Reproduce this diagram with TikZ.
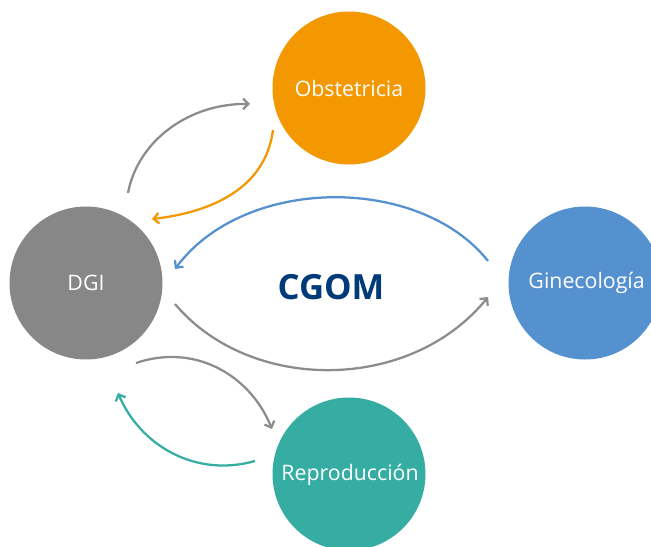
\documentclass[tikz,border=0pt]{standalone}
\usepackage{fontspec}
\setmainfont{Open Sans}
\usetikzlibrary{arrows.meta}
\definecolor{cgray}{HTML}{878787}
\definecolor{corange}{HTML}{F39800}
\definecolor{cblue}{HTML}{5591CF}
\definecolor{cteal}{HTML}{36ADA3}
\definecolor{cnavy}{HTML}{003A78}
\definecolor{lgray}{HTML}{8C8C8C}
\begin{document}
\begin{tikzpicture}[x=0.75pt,y=-0.75pt,
  bub/.style={circle,minimum size=153*0.75pt,inner sep=0pt,text=white,font=\fontsize{16}{18}\selectfont},
  conn/.style={line width=1.7pt,-{Straight Barb[length=4pt,width=8pt]}}]
\useasboundingbox (0,0) rectangle (651,547);
\begin{scope}
\clip (0,0) rectangle (651,547);
\node[bub,fill=corange] (obs) at (349,88) {Obstetricia};
\node[bub,fill=cgray] (dgi) at (86,283) {DGI};
\node[bub,fill=cblue] (gin) at (585,283) {};
\node[bub,fill=cteal] (rep) at (349,474) {};
\end{scope}
\node[text=white,font=\fontsize{16}{18}\selectfont,anchor=east,inner sep=0pt] (gintext) at (645,283) {Ginecología};
\node[text=white,font=\fontsize{16}{18}\selectfont] (reptext) at (350,475) {Reproducción};
\node[text=cnavy,font=\fontsize{26}{30}\bfseries] (cgom) at (331,287) {CGOM};
\coordinate (a1s) at (128,193); \coordinate (a1e) at (250,104);
\coordinate (a2s) at (273,130); \coordinate (a2e) at (152,219);
\coordinate (a3s) at (488,261); \coordinate (a3e) at (175,269);
\coordinate (a4s) at (175,304); \coordinate (a4e) at (488,297);
\coordinate (a5s) at (136,363); \coordinate (a5e) at (272,429);
\coordinate (a6s) at (255,461); \coordinate (a6e) at (118,393);
\draw[conn,draw=lgray] (a1s) .. controls (138,140) and (190,103) .. (a1e);
\draw[conn,draw=corange] (a2s) .. controls (265,192) and (205,213) .. (a2e);
\draw[conn,draw=cblue] (a3s) .. controls (420,175) and (245,175) .. (a3e);
\draw[conn,draw=lgray] (a4s) .. controls (250,393) and (410,393) .. (a4e);
\draw[conn,draw=lgray] (a5s) .. controls (195,343) and (250,375) .. (a5e);
\draw[conn,draw=cteal] (a6s) .. controls (195,478) and (140,445) .. (a6e);
\end{tikzpicture}
\end{document}
